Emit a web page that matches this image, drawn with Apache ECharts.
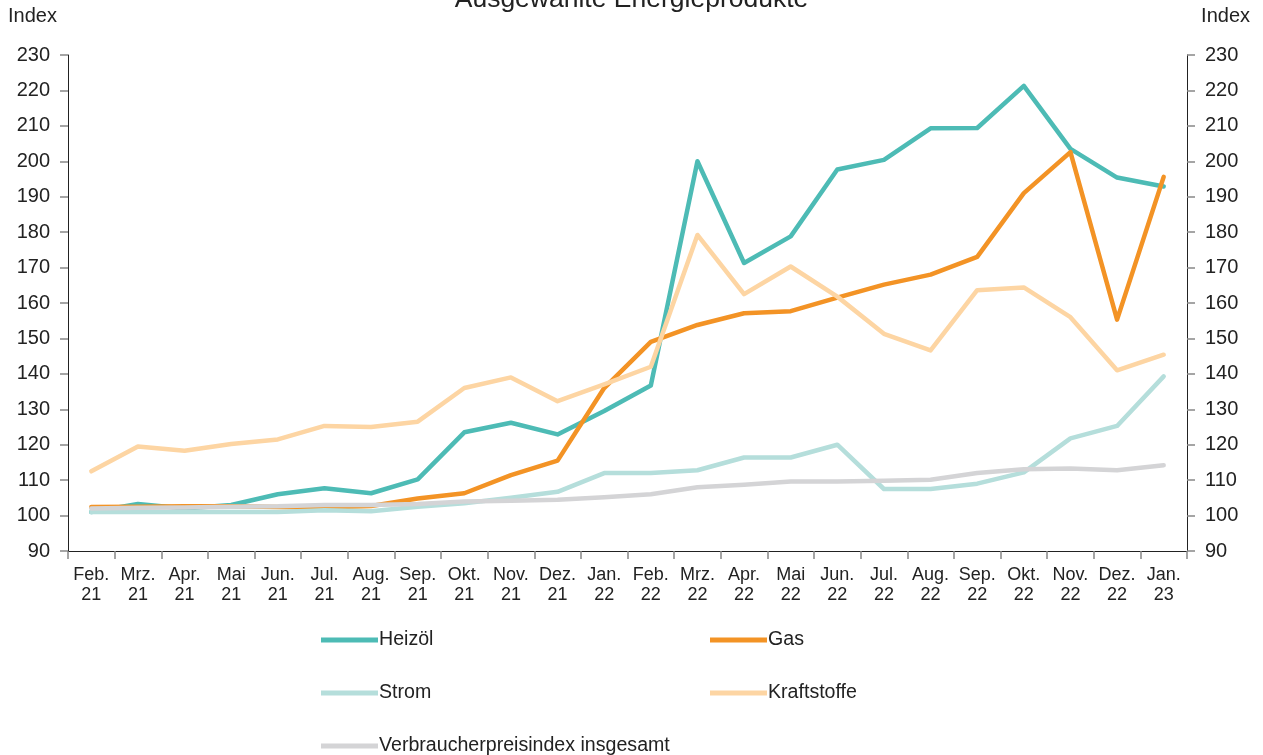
<!DOCTYPE html>
<html><head><meta charset="utf-8">
<script src="https://cdn.jsdelivr.net/npm/echarts@6/dist/echarts.min.js"></script>
<style>html,body{margin:0;padding:0;background:#fff}#c{width:1263px;height:755px}</style>
</head><body><div id="c"></div>
<script>
const categories = ["Feb.\n21","Mrz.\n21","Apr.\n21","Mai\n21","Jun.\n21","Jul.\n21","Aug.\n21","Sep.\n21","Okt.\n21","Nov.\n21","Dez.\n21","Jan.\n22","Feb.\n22","Mrz.\n22","Apr.\n22","Mai\n22","Jun.\n22","Jul.\n22","Aug.\n22","Sep.\n22","Okt.\n22","Nov.\n22","Dez.\n22","Jan.\n23"];
const heizoel = [101,103.3,102,103,106,107.7,106.3,110.2,123.5,126.2,122.9,129.5,136.7,200,171.3,178.8,197.7,200.4,209.3,209.4,221.3,203.5,195.4,192.9];
const gas = [102.4,102.5,102.6,102.6,102.4,102.3,102.7,104.8,106.3,111.4,115.5,136,149,153.8,157.1,157.7,161.5,165.2,168,173,191,202.6,155.3,195.6];
const strom = [101,101,101,101,101,101.5,101.2,102.5,103.5,105,106.7,112,112,112.8,116.4,116.4,120,107.5,107.5,109,112.2,121.8,125.3,139.3];
const kraftstoffe = [112.5,119.5,118.3,120.2,121.5,125.3,125,126.5,136,139,132.3,137,142,179.2,162.5,170.3,161.8,151.3,146.6,163.6,164.4,156,141,145.4];
const vpi = [102,102.2,102.3,102.5,102.6,103,103,103.3,104,104.2,104.5,105.2,106,108,108.7,109.6,109.6,109.8,110.1,112,113.1,113.3,112.8,114.2];
const names = ["Heizöl","Gas","Strom","Kraftstoffe","Verbraucherpreisindex insgesamt"];
const colors = ["#4dbbb5","#f39325","#b5dedb","#fdd5a3","#d4d4d6"];
const yTicks = {min:90, max:230, interval:10};
const axisTitle = "Index";
const chartTitle = "Ausgewählte Energieprodukte";

const font = "'Liberation Sans', Arial, sans-serif";
const chart = echarts.init(document.getElementById('c'), null, {renderer:'canvas'});
function yAxis(pos){
  return {type:'value', position:pos, min:yTicks.min, max:yTicks.max, interval:yTicks.interval,
    axisLine:{show:true, lineStyle:{color:'#222', width:1}},
    axisTick:{show:true, length:8, lineStyle:{color:'#888', width:1.5}},
    axisLabel:{color:'#222', fontSize:20, fontFamily:font, margin:18},
    splitLine:{show:false}};
}
const series = [heizoel,gas,strom,kraftstoffe,vpi].map((d,i)=>({
  name:names[i], type:'line', data:d, yAxisIndex:0, symbol:'none', smooth:false,
  lineStyle:{color:colors[i], width:4.5, cap:'round', join:'round'}, itemStyle:{color:colors[i]},
  z: 2+i
}));
const legendBase = {orient:'vertical', icon:'rect', itemWidth:57, itemHeight:5, itemGap:33, padding:0,
  height:200, width:420,
  textStyle:{color:'#222', fontSize:19.6, fontFamily:font, padding:[0,0,0,-4]}, selectedMode:false};
chart.setOption({
  animation:false,
  title:{text:chartTitle, left:'center', top:-19, textStyle:{fontSize:26.5, fontWeight:'normal', color:'#222', fontFamily:font}},
  graphic:[
    {type:'text', left:8, top:6, style:{text:axisTitle, fontSize:20, fontFamily:font, fill:'#222'}},
    {type:'text', right:13, top:6, style:{text:axisTitle, fontSize:20, fontFamily:font, fill:'#222'}}
  ],
  grid:{left:68, right:76, top:55, bottom:204, containLabel:false, outerBoundsMode:'none'},
  legend:[
    Object.assign({}, legendBase, {left:321, top:630, data:[names[0],names[2],names[4]]}),
    Object.assign({}, legendBase, {left:710, top:630, data:[names[1],names[3]]})
  ],
  xAxis:{type:'category', data:categories, boundaryGap:true,
    axisLine:{lineStyle:{color:'#222', width:1}},
    axisTick:{show:true, length:8, alignWithLabel:false, lineStyle:{color:'#888', width:1.5}},
    axisLabel:{color:'#222', fontSize:18, fontFamily:font, lineHeight:20, margin:14, interval:0}},
  yAxis:[yAxis('left'), yAxis('right')],
  series: series
});
</script></body></html>
